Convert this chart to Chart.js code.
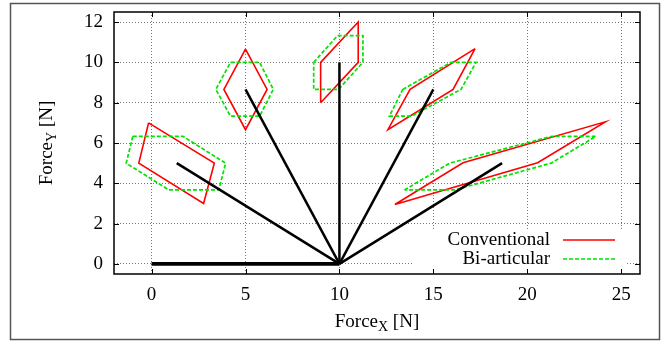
<!DOCTYPE html>
<html>
<head>
<meta charset="utf-8">
<script src="https://cdn.jsdelivr.net/npm/chart.js@4.4.1/dist/chart.umd.min.js"></script>
<style>
  html, body { margin: 0; padding: 0; background: #fff; }
  canvas { display: block; }
</style>
</head>
<body>
<canvas id="chart" width="669" height="344"></canvas>
<script>
// --- Data ---

const xTicks = [0, 5, 10, 15, 20, 25];
const yTicks = [0, 2, 4, 6, 8, 10, 12];

// force vectors, all starting at the same point
const vecOrigin = [10, 0];
const vecEnds = [[0, 0], [1.34, 5], [5, 8.66], [10, 10], [15, 8.66], [18.66, 5]];

// Conventional (red) polygons
const convA = [[-0.16, 7], [3.34, 5], [2.77, 3], [-0.68, 5]];
const convB = [[5, 10.66], [6.15, 8.66], [5, 6.66], [3.85, 8.66]];
const convC = [[9, 8], [9, 10], [11, 12], [11, 10]];
const convD = [[17.22, 10.68], [16.05, 8.66], [12.58, 6.66], [13.76, 8.66]];
const convE = [[12.95, 2.95], [16.58, 5.02], [24.15, 7.05], [20.55, 5.02]];

// Bi-articular (green) polygons
const biA = [[-1, 6.33], [1.67, 6.33], [3.94, 5], [3.58, 3.67], [0.92, 3.67], [-1.35, 5]];
const biB = [[4.2, 10], [5.75, 10], [6.48, 8.66], [5.75, 7.33], [4.2, 7.33], [3.42, 8.66]];
const biC = [[8.63, 10], [9.9, 11.33], [11.25, 11.33], [11.25, 10], [9.95, 8.66], [8.63, 8.66]];
const biD = [[13.37, 8.66], [15.93, 10], [17.27, 10], [16.47, 8.66], [13.83, 7.33], [12.66, 7.33]];
const biE = [[13.46, 3.67], [15.87, 5], [21.3, 6.33], [23.65, 6.33], [21.27, 5], [16.12, 3.67]];

const legendLabels = ['Conventional', 'Bi-articular'];

// --- Helpers ---

const FONT = '"Liberation Serif", "DejaVu Serif", serif';
const RED = '#ff0000';
const GREEN = '#00e400';

// polygon -> closed list of {x,y}
function closed(poly) {
    const pts = poly.map(p => ({ x: p[0], y: p[1] }));
    pts.push({ x: poly[0][0], y: poly[0][1] });
    return pts;
}

const datasets = [];

// black vectors on top
vecEnds.forEach((e, i) => {
    datasets.push({
        data: [{ x: vecOrigin[0], y: vecOrigin[1] }, { x: e[0], y: e[1] }],
        borderColor: '#000',
        borderWidth: i === 0 ? 3.6 : 2.5,
        order: 0
    });
});

[biA, biB, biC, biD, biE].forEach(p => {
    datasets.push({
        data: closed(p),
        borderColor: GREEN,
        borderWidth: 1.7,
        borderDash: [4, 2],
        order: 1
    });
});

[convA, convB, convC, convD, convE].forEach(p => {
    datasets.push({
        data: closed(p),
        borderColor: RED,
        borderWidth: 1.6,
        order: 2
    });
});

// draw "Force" + subscript + " [N]"
function drawSubTitle(ctx, sub, cx, cy, rotate) {
    ctx.save();
    ctx.translate(cx, cy);
    if (rotate) ctx.rotate(-Math.PI / 2);
    ctx.fillStyle = '#000';
    ctx.textBaseline = 'alphabetic';
    ctx.textAlign = 'left';
    const big = '19px ' + FONT, small = '14px ' + FONT;
    ctx.font = big;
    const w1 = ctx.measureText('Force').width;
    const w3 = ctx.measureText(' [N]').width;
    ctx.font = small;
    const w2 = ctx.measureText(sub).width;
    let x = -(w1 + w2 + w3) / 2;
    ctx.font = big;
    ctx.fillText('Force', x, 0);
    x += w1;
    ctx.font = small;
    ctx.fillText(sub, x, 4);
    x += w2;
    ctx.font = big;
    ctx.fillText(' [N]', x, 0);
    ctx.restore();
}

const decor = {
    id: 'decor',
    beforeDraw(chart) {
        const ctx = chart.ctx;
        ctx.save();
        ctx.fillStyle = '#fff';
        ctx.fillRect(0, 0, chart.width, chart.height);
        ctx.strokeStyle = '#555';
        ctx.lineWidth = 1.5;
        ctx.strokeRect(10.5, 3.5, 649, 336);
        ctx.restore();
    },
    beforeDatasetsDraw(chart) {
        // legend box (covers the grid)
        const ctx = chart.ctx;
        const a = chart.chartArea;
        ctx.save();
        ctx.fillStyle = '#fff';
        ctx.fillRect(413, 229, 214, a.bottom - 229);
        ctx.font = '19px ' + FONT;
        ctx.fillStyle = '#000';
        ctx.textAlign = 'right';
        ctx.textBaseline = 'middle';
        const rows = [240, 259];
        ctx.fillText(legendLabels[0], 550, rows[0]);
        ctx.fillText(legendLabels[1], 550, rows[1]);
        ctx.lineWidth = 1.6;
        ctx.strokeStyle = RED;
        ctx.beginPath(); ctx.moveTo(563, rows[0]); ctx.lineTo(615, rows[0]); ctx.stroke();
        ctx.strokeStyle = GREEN;
        ctx.setLineDash([4, 2]);
        ctx.beginPath(); ctx.moveTo(563, rows[1]); ctx.lineTo(615, rows[1]); ctx.stroke();
        ctx.restore();
    },
    afterDatasetsDraw(chart) {
        const ctx = chart.ctx;
        const a = chart.chartArea;
        const xs = chart.scales.x, ys = chart.scales.y;
        ctx.save();
        ctx.strokeStyle = '#000';
        ctx.lineWidth = 1.5;
        ctx.strokeRect(a.left, a.top, a.right - a.left, a.bottom - a.top);
        // inward tick marks, mirrored
        ctx.lineWidth = 1;
        ctx.beginPath();
        xTicks.forEach(v => {
            const px = Math.round(xs.getPixelForValue(v)) + 0.5;
            ctx.moveTo(px, a.bottom); ctx.lineTo(px, a.bottom - 5);
            ctx.moveTo(px, a.top); ctx.lineTo(px, a.top + 5);
        });
        yTicks.forEach(v => {
            const py = Math.round(ys.getPixelForValue(v)) + 0.5;
            ctx.moveTo(a.left, py); ctx.lineTo(a.left + 5, py);
            ctx.moveTo(a.right, py); ctx.lineTo(a.right - 5, py);
        });
        ctx.stroke();
        ctx.restore();
    },
    afterDraw(chart) {
        const ctx = chart.ctx;
        const a = chart.chartArea;
        drawSubTitle(ctx, 'X', (a.left + a.right) / 2, 327, false);
        drawSubTitle(ctx, 'Y', 52, (a.top + a.bottom) / 2, true);
    }
};

const tickFont = { family: FONT, size: 19 };

new Chart(document.getElementById('chart'), {
    type: 'scatter',
    data: { datasets: datasets },
    options: {
        responsive: false,
        animation: false,
        devicePixelRatio: 1,
        showLine: true,
        layout: { padding: { left: 0, top: 12, right: 29, bottom: 0 } },
        elements: {
            point: { radius: 0, hoverRadius: 0 },
            line: { tension: 0, fill: false, borderJoinStyle: 'miter' }
        },
        plugins: {
            legend: { display: false },
            tooltip: { enabled: false }
        },
        scales: {
            x: {
                type: 'linear',
                min: -2,
                max: 26,
                afterBuildTicks: s => { s.ticks = xTicks.map(v => ({ value: v })); },
                afterFit: s => { s.height = 70; s.paddingLeft = 0; s.paddingRight = 0; },
                grid: { color: '#777', lineWidth: 1, drawTicks: false },
                border: { display: false, dash: [1, 2] },
                ticks: { font: tickFont, color: '#000', padding: 10, maxRotation: 0 }
            },
            y: {
                type: 'linear',
                min: -0.5,
                max: 12.5,
                afterBuildTicks: s => { s.ticks = yTicks.map(v => ({ value: v })); },
                afterFit: s => { s.width = 114; s.paddingTop = 0; s.paddingBottom = 0; },
                grid: { color: '#777', lineWidth: 1, drawTicks: false },
                border: { display: false, dash: [1, 2] },
                ticks: { font: tickFont, color: '#000', padding: 11 }
            }
        }
    },
    plugins: [decor]
});
</script>
</body>
</html>
